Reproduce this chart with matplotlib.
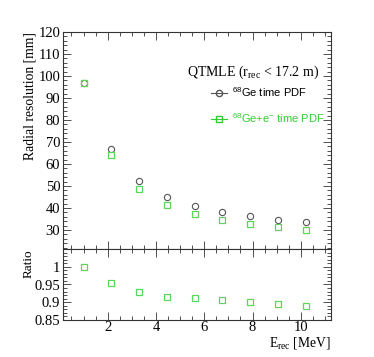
import matplotlib
matplotlib.use("Agg")
import matplotlib.pyplot as plt
from matplotlib.ticker import MultipleLocator
from matplotlib.lines import Line2D

energy = [1.0, 2.15, 3.3, 4.45, 5.6, 6.75, 7.9, 9.05, 10.2]
res_ge = [97.0, 67.0, 52.5, 45.2, 41.0, 38.2, 36.2, 34.7, 33.7]
res_gee = [97.0, 64.0, 48.8, 41.5, 37.3, 34.8, 32.6, 31.2, 29.9]
ratio = [1.0, 0.955, 0.93, 0.916, 0.911, 0.907, 0.901, 0.896, 0.889]
upper_ticks = [30, 40, 50, 60, 70, 80, 90, 100, 110, 120]
ratio_ticks = [0.85, 0.9, 0.95, 1.0]
ratio_tick_labels = ["0.85", "0.9", "0.95", "1"]
x_ticks = [2, 4, 6, 8, 10]

serif = "Liberation Serif"
sans = "Liberation Sans"
plt.rcParams["mathtext.fontset"] = "custom"
plt.rcParams["mathtext.rm"] = serif
plt.rcParams["mathtext.sf"] = sans

c_ge = "#555555"
c_gee = "#5ad65a"
c_text_gee = "#33cc33"
c_axis = "#333333"

fig = plt.figure(figsize=(3.74, 3.57), dpi=100)
W, H = 374, 357
x0, x1 = 63, 331
ax1 = fig.add_axes([x0 / W, 1 - 249 / H, (x1 - x0) / W, (249 - 32) / H])
ax2 = fig.add_axes([x0 / W, 1 - 320 / H, (x1 - x0) / W, (320 - 249) / H], sharex=ax1)

ms = 4.5
ax1.plot(energy, res_ge, linestyle="none", marker="o", mfc="none", mec=c_ge, ms=ms, mew=0.8)
ax1.plot(energy, res_gee, linestyle="none", marker="s", mfc="none", mec=c_gee, ms=ms, mew=0.9)
ax2.plot(energy, ratio, linestyle="none", marker="s", mfc="none", mec=c_gee, ms=ms, mew=0.9)

for ax in (ax1, ax2):
    ax.tick_params(which="both", direction="in", top=True, right=True, width=0.6, color=c_axis)
    ax.tick_params(which="major", length=6)
    ax.tick_params(which="minor", length=3)
    ax.tick_params(labelsize=10.5, pad=2)
    for s in ax.spines.values():
        s.set_linewidth(0.8)
        s.set_color(c_axis)
ax2.tick_params(axis="x", pad=1)

ax1.xaxis.set_major_locator(MultipleLocator(2))
ax1.xaxis.set_minor_locator(MultipleLocator(0.5))
ax1.yaxis.set_minor_locator(MultipleLocator(2))
ax2.yaxis.set_minor_locator(MultipleLocator(0.01))
ax1.tick_params(labelbottom=False)

ax1.set_yticks(upper_ticks)
ax1.set_yticklabels([str(v) for v in upper_ticks], fontfamily=serif)
ax2.set_yticks(ratio_ticks)
ax2.set_yticklabels(ratio_tick_labels, fontfamily=serif)
ax2.set_xticks(x_ticks)
ax2.set_xticklabels([str(v) for v in x_ticks], fontfamily=serif)

ax1.set_xlim(0.15, 11.25)
ax1.set_ylim(21.4, 120)
ax2.set_ylim(0.85, 1.05)

fig.text(30 / W, 1 - 32 / H, "Radial resolution [mm]", rotation=90, ha="center", va="top",
         fontfamily=serif, fontsize=9.8)
fig.text(29 / W, 1 - 249 / H, "Ratio", rotation=90, ha="center", va="top",
         fontfamily=serif, fontsize=9.5)
fig.text(331 / W, 1 - 343 / H, r"E$_{\rm rec}$ [MeV]", ha="right", va="center",
         fontfamily=serif, fontsize=9.8)

# legend
ax1.text(0.955, 0.816, r"QTMLE (r$_{\rm rec}$ < 17.2 m)", transform=ax1.transAxes,
         ha="right", va="center", fontfamily=serif, fontsize=10)
h1 = Line2D([], [], color=c_ge, marker="o", mfc="none", mec=c_ge, ms=ms, lw=0.8)
h2 = Line2D([], [], color=c_text_gee, marker="s", mfc="none", mec=c_text_gee, ms=ms, lw=0.8)
leg = ax1.legend([h1, h2], [r"$^{\mathsf{68}}$Ge time PDF", r"$^{\mathsf{68}}$Ge+e$^{\mathsf{-}}$ time PDF"],
                 loc="upper left", bbox_to_anchor=(0.533, 0.78), frameon=False,
                 prop={"family": sans, "size": 8}, handlelength=1.4, handletextpad=0.45,
                 labelspacing=1.05, borderpad=0)
leg.get_texts()[1].set_color(c_text_gee)

fig.savefig("out.png", dpi=100)
